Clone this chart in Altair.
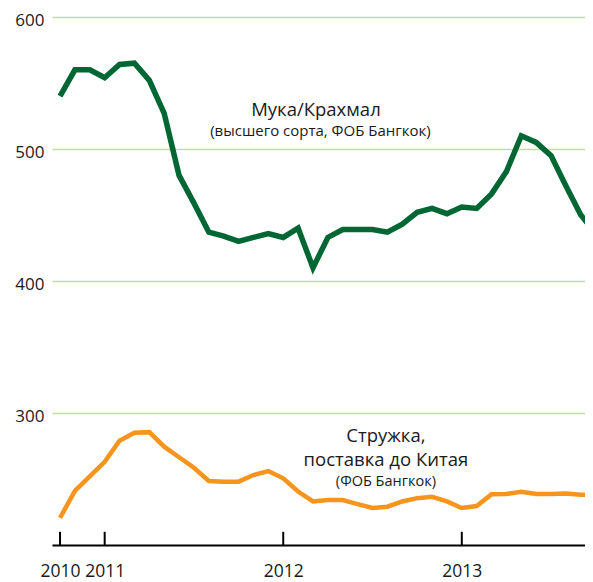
import altair as alt
import pandas as pd

# month index 0 = Oct 2010 ... 36 = Oct 2013
months = list(range(37))
flour = [540, 560, 560, 554, 564, 565, 552, 527, 480, 459, 437, 434, 430, 433, 436, 433,
         440, 410, 433, 439, 439, 439, 437, 443, 452, 455, 451, 456, 455, 466, 483, 510,
         505, 495, 472, 450, 436]
chips = [220.5, 241, 252, 263, 279, 285, 285.5, 274.5, 266.5, 258.5, 248.5, 248, 248, 253,
         256, 250.5, 240.5, 233, 234, 234, 231, 228, 229, 233, 235.5, 236.5, 233, 228,
         229.5, 238.4, 238.6, 240.4, 238.6, 238.6, 239, 238, 238]
tick_pos = [0, 3, 15, 27]
tick_labels = ["2010", "2011", "2012", "2013"]
y_grid = [300, 400, 500, 600]

labels_text = ["Мука/Крахмал", "(высшего сорта, ФОБ Бангкок)",
               "Стружка,", "поставка до Китая", "(ФОБ Бангкок)"]
labels_x = [17.2, 17.5, 21.9, 21.9, 21.9]
labels_y = [529.5, 513.5, 282.5, 264.5, 248]
labels_size = [18.5, 15, 18.5, 18.5, 14.5]

df = pd.DataFrame({"m": months, "flour": flour, "chips": chips})
ticks_df = pd.DataFrame({"m": tick_pos, "lab": tick_labels, "y0": [200] * 4, "y1": [210] * 4})
lab_df = pd.DataFrame({"t": labels_text, "m": labels_x, "v": labels_y, "s": labels_size})

FONT = "Open Sans"
label_map = "{" + ",".join(f"'{p}':'{l}'" for p, l in zip(tick_pos, tick_labels)) + "}"

xscale = alt.Scale(domain=[-0.54, 35.28], nice=False, zero=False)
yscale = alt.Scale(domain=[200, 600], nice=False, zero=False)

base = alt.Chart(df)

xaxis = alt.Axis(values=tick_pos, labelExpr=f"{label_map}[datum.value]", ticks=False,
                 grid=False, domainColor="#000000", domainWidth=2.2, labelFontSize=17.5,
                 labelFont=FONT, labelColor="#1a1a1a", labelPadding=17, labelOverlap=False,
                 labelBound=False, labelFlush=False, title=None)
yaxis = alt.Axis(values=y_grid, ticks=False, domain=False, grid=True, gridColor="#c3df9c",
                 gridWidth=1.5, labelFontSize=17, labelFont=FONT, labelColor="#1a1a1a",
                 labelPadding=8, labelOffset=3, title=None)

green = base.mark_line(color="#006633", strokeWidth=5.5, clip=True, strokeJoin="miter").encode(
    x=alt.X("m:Q", scale=xscale, axis=xaxis),
    y=alt.Y("flour:Q", scale=yscale, axis=yaxis),
)
orange = base.mark_line(color="#f7941d", strokeWidth=4.5, clip=True, strokeJoin="miter").encode(
    x=alt.X("m:Q", scale=xscale),
    y=alt.Y("chips:Q", scale=yscale),
)
ticks = alt.Chart(ticks_df).mark_rule(color="#000000", strokeWidth=2).encode(
    x=alt.X("m:Q", scale=xscale),
    y=alt.Y("y0:Q", scale=yscale),
    y2="y1:Q",
)
texts = alt.Chart(lab_df).mark_text(font=FONT, color="#1a1a1a", align="center",
                                     baseline="middle").encode(
    x=alt.X("m:Q", scale=xscale),
    y=alt.Y("v:Q", scale=yscale),
    text="t:N",
    size=alt.Size("s:Q", scale=None, legend=None),
)

chart = alt.layer(green, orange, ticks, texts).properties(
    width=533, height=528,
    autosize=alt.AutoSizeParams(type="none"),
    padding={"left": 44, "top": 9, "right": 0, "bottom": 37},
).configure_view(stroke=None)

chart.save("out.html", embed_options={"renderer": "svg", "actions": False})
